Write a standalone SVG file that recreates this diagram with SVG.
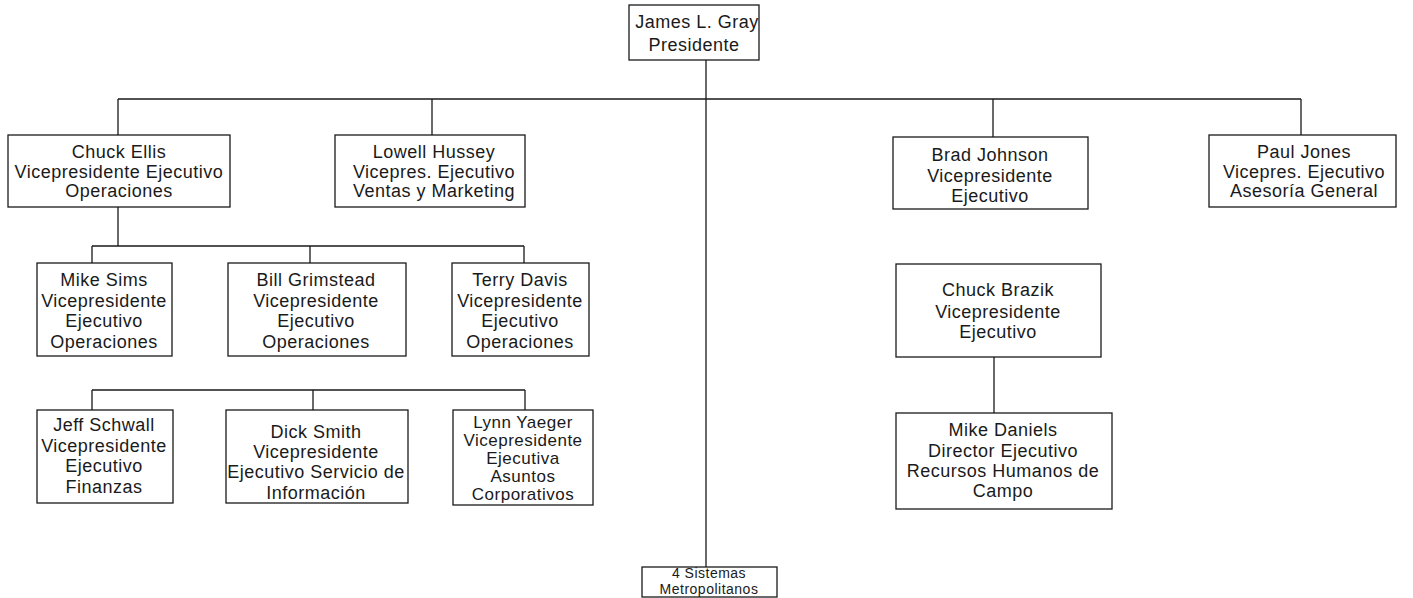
<svg xmlns="http://www.w3.org/2000/svg" width="1413" height="598" viewBox="0 0 1413 598">
<style>
.box{fill:#fff;stroke:#1a1a1a;stroke-width:1.3}
.ln{fill:none;stroke:#1a1a1a;stroke-width:1.3}
text{font-family:"Liberation Sans",Arial,sans-serif;font-size:18px;fill:#1a1a1a;text-anchor:middle;dominant-baseline:central;letter-spacing:0.5px}
.s{font-size:17px}
.m{font-size:14px}
</style>
<defs>
<clipPath id="cp"><rect x="629" y="5" width="130" height="55"/></clipPath>
</defs>
<rect width="1413" height="598" fill="#fff"/>
<g id="connectors">
<path class="ln" d="M706 60V567"/>
<path class="ln" d="M118 99H1301M118 99V135M432 99V135M993 99V137M1301 99V135"/>
<path class="ln" d="M118 207V246M92 246H524M92 246V263M310 246V263M524 246V263"/>
<path class="ln" d="M92 390H525M92 390V410M313 390V410M525 390V410"/>
<path class="ln" d="M994 357V413"/>
</g>
<g id="n-gray">
<rect class="box" x="629" y="5" width="130" height="55"/>
<g clip-path="url(#cp)"><text x="697" y="22">James L. Gray</text></g>
<text x="694" y="45">Presidente</text>
</g>
<g id="n-ellis">
<rect class="box" x="8" y="135" width="222" height="72"/>
<text x="119" y="152">Chuck Ellis</text>
<text x="119" y="172">Vicepresidente Ejecutivo</text>
<text x="119" y="191">Operaciones</text>
</g>
<g id="n-hussey">
<rect class="box" x="335" y="135" width="190" height="72"/>
<text x="434" y="152">Lowell Hussey</text>
<text x="434" y="172">Vicepres. Ejecutivo</text>
<text x="434" y="191">Ventas y Marketing</text>
</g>
<g id="n-johnson">
<rect class="box" x="893" y="137" width="195" height="72"/>
<text x="990" y="155">Brad Johnson</text>
<text x="990" y="176">Vicepresidente</text>
<text x="990" y="196">Ejecutivo</text>
</g>
<g id="n-jones">
<rect class="box" x="1209" y="135" width="187" height="72"/>
<text x="1304" y="152">Paul Jones</text>
<text x="1304" y="172">Vicepres. Ejecutivo</text>
<text x="1304" y="191">Asesoría General</text>
</g>
<g id="n-sims">
<rect class="box" x="37" y="263" width="135" height="93"/>
<text x="104" y="280">Mike Sims</text>
<text x="104" y="301">Vicepresidente</text>
<text x="104" y="321">Ejecutivo</text>
<text x="104" y="342">Operaciones</text>
</g>
<g id="n-grimstead">
<rect class="box" x="228" y="263" width="178" height="93"/>
<text x="316" y="280">Bill Grimstead</text>
<text x="316" y="301">Vicepresidente</text>
<text x="316" y="321">Ejecutivo</text>
<text x="316" y="342">Operaciones</text>
</g>
<g id="n-davis">
<rect class="box" x="452" y="263" width="137" height="93"/>
<text x="520" y="280">Terry Davis</text>
<text x="520" y="301">Vicepresidente</text>
<text x="520" y="321">Ejecutivo</text>
<text x="520" y="342">Operaciones</text>
</g>
<g id="n-schwall">
<rect class="box" x="37" y="410" width="136" height="93"/>
<text x="104" y="425">Jeff Schwall</text>
<text x="104" y="446">Vicepresidente</text>
<text x="104" y="466">Ejecutivo</text>
<text x="104" y="487">Finanzas</text>
</g>
<g id="n-smith">
<rect class="box" x="226" y="410" width="182" height="93"/>
<text x="316" y="432">Dick Smith</text>
<text x="316" y="452">Vicepresidente</text>
<text x="316" y="472">Ejecutivo Servicio de</text>
<text x="316" y="493">Información</text>
</g>
<g id="n-yaeger">
<rect class="box" x="453" y="410" width="140" height="95"/>
<text class="s" x="523" y="422">Lynn Yaeger</text>
<text class="s" x="523" y="440">Vicepresidente</text>
<text class="s" x="523" y="458">Ejecutiva</text>
<text class="s" x="523" y="476">Asuntos</text>
<text class="s" x="523" y="494">Corporativos</text>
</g>
<g id="n-brazik">
<rect class="box" x="896" y="264" width="205" height="93"/>
<text x="998" y="290">Chuck Brazik</text>
<text x="998" y="312">Vicepresidente</text>
<text x="998" y="332">Ejecutivo</text>
</g>
<g id="n-daniels">
<rect class="box" x="896" y="413" width="216" height="96"/>
<text x="1003" y="430">Mike Daniels</text>
<text x="1003" y="451">Director Ejecutivo</text>
<text x="1003" y="471">Recursos Humanos de</text>
<text x="1003" y="491">Campo</text>
</g>
<g id="n-metro">
<rect class="box" x="642" y="567" width="135" height="30"/>
<text class="m" x="709" y="573">4 Sistemas</text>
<text class="m" x="709" y="589">Metropolitanos</text>
</g>
</svg>
